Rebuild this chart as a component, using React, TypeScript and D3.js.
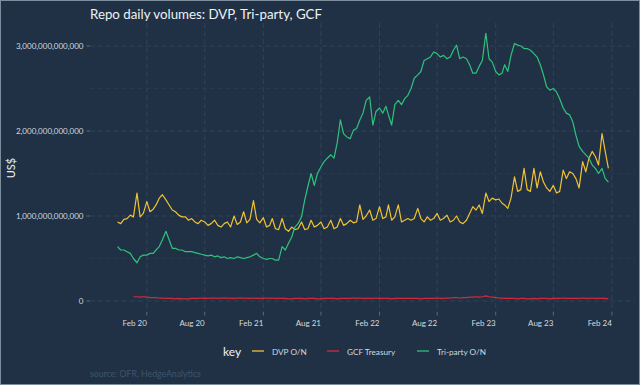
import React, { useEffect, useRef } from 'react';
import * as d3 from 'd3';

// readings in trillions of US$, three per month (1st, 11th, 21st), Nov 2019 - Jan 2024
const DAYS = [1, 11, 21];
const FIRST_MONTH = new Date(2019, 10, 1);
const AFTER_LAST_MONTH = new Date(2024, 1, 1);

const DVP = [
    0.93, 0.91, 0.96, 0.97, 1.01, 0.99,
    1.27, 0.99, 1.03, 1.17, 1.05, 1.08, 1.13, 1.21, 1.25, 1.19, 1.13, 1.07,
    1.05, 1.01, 0.99, 0.99, 0.95, 0.97, 0.93, 0.91, 0.95, 0.93, 0.89, 0.91,
    0.95, 0.89, 0.87, 0.91, 0.93, 0.87, 1.0, 0.9, 0.93, 1.05, 0.92, 0.96,
    1.18, 0.96, 0.92, 0.98, 0.87, 0.89, 0.97, 0.85, 0.84, 0.97, 0.85, 0.82,
    0.87, 0.84, 0.85, 0.93, 0.84, 0.85, 0.95, 0.87, 0.89, 0.93, 0.85, 0.87,
    0.95, 0.85, 0.87, 0.97, 0.89, 0.91, 0.95, 0.92, 0.93, 1.13, 0.96, 1.0,
    1.07, 0.95, 0.97, 1.11, 0.97, 0.99, 1.13, 0.95, 0.99, 1.13, 0.93, 0.95,
    0.97, 0.95, 0.97, 1.09, 0.97, 0.93, 0.99, 0.95, 0.97, 1.03, 0.95, 0.97,
    1.01, 0.93, 0.95, 1.0, 0.93, 0.91, 0.95, 1.03, 1.11, 1.07, 1.13, 1.03,
    1.27, 1.17, 1.21, 1.19, 1.2, 1.15, 1.13, 1.09, 1.21, 1.46, 1.29, 1.31,
    1.56, 1.31, 1.29, 1.56, 1.33, 1.52, 1.4, 1.33, 1.29, 1.36, 1.27, 1.29,
    1.54, 1.44, 1.52, 1.5, 1.44, 1.33, 1.64, 1.52, 1.68, 1.76, 1.7, 1.6,
    1.97, 1.76, 1.56,
];

const GCF = [
    null, null, null, null, null, 0.05,
    0.05, 0.045, 0.05, 0.045, 0.04, 0.04, 0.04, 0.035, 0.035, 0.03, 0.03, 0.03,
    0.025, 0.03, 0.025, 0.025, 0.025, 0.03, 0.03, 0.03, 0.035, 0.03, 0.03, 0.035,
    0.035, 0.03, 0.035, 0.035, 0.035, 0.03, 0.03, 0.035, 0.035, 0.035, 0.03, 0.03,
    0.035, 0.03, 0.03, 0.03, 0.035, 0.03, 0.035, 0.03, 0.03, 0.03, 0.03, 0.025,
    0.025, 0.03, 0.03, 0.03, 0.025, 0.03, 0.03, 0.03, 0.025, 0.025, 0.03, 0.03,
    0.03, 0.03, 0.025, 0.03, 0.03, 0.03, 0.03, 0.035, 0.03, 0.035, 0.03, 0.03,
    0.03, 0.03, 0.035, 0.03, 0.03, 0.03, 0.03, 0.025, 0.03, 0.03, 0.03, 0.03,
    0.03, 0.03, 0.03, 0.03, 0.025, 0.03, 0.03, 0.03, 0.03, 0.035, 0.03, 0.03,
    0.035, 0.035, 0.04, 0.04, 0.035, 0.04, 0.04, 0.045, 0.045, 0.05, 0.045, 0.05,
    0.06, 0.05, 0.045, 0.04, 0.035, 0.035, 0.03, 0.03, 0.03, 0.03, 0.025, 0.03,
    0.03, 0.025, 0.025, 0.03, 0.025, 0.03, 0.03, 0.03, 0.025, 0.03, 0.03, 0.03,
    0.035, 0.03, 0.03, 0.03, 0.03, 0.03, 0.035, 0.03, 0.03, 0.035, 0.03, 0.03,
    0.03, 0.03, 0.025,
];

const TRI = [
    0.64, 0.6, 0.6, 0.58, 0.56, 0.5,
    0.45, 0.52, 0.54, 0.54, 0.56, 0.56, 0.6, 0.64, 0.72, 0.82, 0.72, 0.62,
    0.62, 0.6, 0.6, 0.58, 0.58, 0.58, 0.57, 0.56, 0.55, 0.54, 0.53, 0.54,
    0.52, 0.53, 0.51, 0.52, 0.5, 0.51, 0.5, 0.52, 0.51, 0.5, 0.51, 0.52,
    0.54, 0.56, 0.52, 0.5, 0.49, 0.5, 0.5, 0.48, 0.48, 0.64, 0.6, 0.68,
    0.75, 0.87, 0.91, 0.99, 1.19, 1.35, 1.5, 1.36, 1.5, 1.58, 1.64, 1.68,
    1.72, 1.68, 1.86, 2.13, 1.97, 1.93, 1.91, 2.01, 2.03, 2.13, 2.21, 2.36,
    2.4, 2.07, 2.23, 2.27, 2.21, 2.29, 2.19, 2.07, 2.31, 2.36, 2.31, 2.38,
    2.42, 2.5, 2.62, 2.66, 2.7, 2.83, 2.85, 2.87, 2.93, 2.91, 2.87, 2.89,
    2.85, 2.87, 2.95, 3.01, 2.85, 2.87, 2.85, 2.78, 2.68, 2.68, 2.76, 2.83,
    3.15, 2.85, 2.81, 2.7, 2.66, 2.68, 2.78, 2.7, 2.89, 3.03, 3.01, 3.0,
    2.97, 2.97, 2.95, 2.91, 2.87, 2.78, 2.66, 2.52, 2.48, 2.5, 2.46, 2.38,
    2.27, 2.21, 2.19, 2.11, 1.95, 1.82, 1.76, 1.72, 1.68, 1.6, 1.56, 1.5,
    1.56, 1.44, 1.4,
];

const SERIES = [
    { key: 'DVP O/N', values: DVP, color: '#f1c232' },
    { key: 'GCF Treasury', values: GCF, color: '#d12b3f' },
    { key: 'Tri-party O/N', values: TRI, color: '#2fc27c' },
];

const X_TICKS = ['2020-02-01', '2020-08-01', '2021-02-01', '2021-08-01', '2022-02-01', '2022-08-01', '2023-02-01', '2023-08-01', '2024-02-01'];
const X_LABELS = ['Feb 20', 'Aug 20', 'Feb 21', 'Aug 21', 'Feb 22', 'Aug 22', 'Feb 23', 'Aug 23', 'Feb 24'];
const Y_TICKS = [0, 1e12, 2e12, 3e12];
const Y_MINOR = [0.5e12, 1.5e12, 2.5e12];

const FONT = 'Lato, "Open Sans", sans-serif';
const BG = '#203145';

export default function App() {
    const svgRef = useRef<SVGSVGElement>(null);

    useEffect(() => {
        if (!svgRef.current) return;
        const width = 640, height = 385;
        const panel = { left: 90, right: 635, top: 23, bottom: 312 };

        const svg = d3.select(svgRef.current)
            .attr('width', width)
            .attr('height', height);
        svg.selectAll('*').remove();

        svg.append('rect').attr('width', width).attr('height', height).attr('fill', BG);

        const dates = d3.timeMonth.range(FIRST_MONTH, AFTER_LAST_MONTH)
            .flatMap(m => DAYS.map(d => new Date(m.getFullYear(), m.getMonth(), d)));

        const x = d3.scaleTime()
            .domain([new Date(2019, 9, 24), new Date(2024, 0, 26)])
            .range([115, 610]);
        const y = d3.scaleLinear()
            .domain([0, 3e12])
            .range([301, 46]);

        const parse = d3.timeParse('%Y-%m-%d');
        const xTicks = X_TICKS.map(s => parse(s)!);

        // grid
        const grid = svg.append('g');
        grid.selectAll('.minor')
            .data(Y_MINOR)
            .enter().append('line')
            .attr('x1', panel.left).attr('x2', panel.right)
            .attr('y1', d => y(d)).attr('y2', d => y(d))
            .attr('stroke', '#2c3e52').attr('stroke-width', 0.6)
            .attr('stroke-dasharray', '5,3');
        grid.selectAll('.hmajor')
            .data(Y_TICKS)
            .enter().append('line')
            .attr('x1', panel.left).attr('x2', panel.right)
            .attr('y1', d => y(d)).attr('y2', d => y(d))
            .attr('stroke', '#35485d').attr('stroke-width', 0.8)
            .attr('stroke-dasharray', '5,3');
        grid.selectAll('.vmajor')
            .data(xTicks)
            .enter().append('line')
            .attr('x1', d => x(d)).attr('x2', d => x(d))
            .attr('y1', panel.top).attr('y2', panel.bottom)
            .attr('stroke', '#35485d').attr('stroke-width', 0.8)
            .attr('stroke-dasharray', '5,3');

        // lines
        SERIES.forEach(s => {
            const pts = dates.map((d, i) => ({ date: d, v: s.values[i] }))
                .filter(p => p.v !== undefined);
            const line = d3.line<{ date: Date; v: number | null }>()
                .defined(p => p.v !== null)
                .x(p => x(p.date))
                .y(p => y((p.v as number) * 1e12));
            svg.append('path')
                .datum(pts)
                .attr('fill', 'none')
                .attr('stroke', s.color)
                .attr('stroke-width', 1.2)
                .attr('stroke-linejoin', 'round')
                .attr('d', line);
        });

        // y axis
        const fmt = d3.format(',.0f');
        const yAxis = svg.append('g');
        yAxis.selectAll('line')
            .data(Y_TICKS)
            .enter().append('line')
            .attr('x1', panel.left - 3.5).attr('x2', panel.left)
            .attr('y1', d => y(d)).attr('y2', d => y(d))
            .attr('stroke', '#6b7a8a').attr('stroke-width', 0.8);
        yAxis.selectAll('text')
            .data(Y_TICKS)
            .enter().append('text')
            .attr('x', panel.left - 6.5)
            .attr('y', d => y(d))
            .attr('dy', '0.35em')
            .attr('text-anchor', 'end')
            .attr('font-family', FONT)
            .attr('font-size', 8)
            .attr('fill', '#d3d9df')
            .text(d => fmt(d));

        // x axis
        const xAxis = svg.append('g');
        xAxis.selectAll('line')
            .data(xTicks)
            .enter().append('line')
            .attr('x1', d => x(d)).attr('x2', d => x(d))
            .attr('y1', panel.bottom).attr('y2', panel.bottom + 3.5)
            .attr('stroke', '#6b7a8a').attr('stroke-width', 0.8);
        xAxis.selectAll('text')
            .data(xTicks)
            .enter().append('text')
            .attr('x', d => x(d))
            .attr('y', 325.5)
            .attr('text-anchor', 'end')
            .attr('font-family', FONT)
            .attr('font-size', 8)
            .attr('fill', '#d3d9df')
            .text((_, i) => X_LABELS[i]);

        svg.append('text')
            .attr('transform', 'translate(15,168) rotate(-90)')
            .attr('text-anchor', 'middle')
            .attr('font-family', FONT)
            .attr('font-size', 11)
            .attr('fill', '#eef1f4')
            .text('US$');

        svg.append('text')
            .attr('x', 90).attr('y', 19)
            .attr('font-family', FONT)
            .attr('font-size', 13.3)
            .attr('fill', '#eef1f4')
            .text('Repo daily volumes: DVP, Tri-party, GCF');

        // legend
        const legend = svg.append('g');
        legend.append('text')
            .attr('x', 223).attr('y', 355.5)
            .attr('font-family', FONT)
            .attr('font-size', 12)
            .attr('fill', '#eef1f4')
            .text('key');
        const itemX = [252, 327, 417];
        SERIES.forEach((s, i) => {
            legend.append('line')
                .attr('x1', itemX[i]).attr('x2', itemX[i] + 12)
                .attr('y1', 351).attr('y2', 351)
                .attr('stroke', s.color).attr('stroke-width', 1.3);
            legend.append('text')
                .attr('x', itemX[i] + 20).attr('y', 354.5)
                .attr('font-family', FONT)
                .attr('font-size', 8.2)
                .attr('fill', '#d3d9df')
                .text(s.key);
        });

        svg.append('text')
            .attr('x', 90).attr('y', 377)
            .attr('font-family', FONT)
            .attr('font-size', 8.7)
            .attr('fill', '#3c566f')
            .text('source: OFR, HedgeAnalytics');

        svg.append('rect')
            .attr('x', 0.5).attr('y', 0.5)
            .attr('width', width - 1).attr('height', height - 1)
            .attr('fill', 'none')
            .attr('stroke', '#7c8d9e')
            .attr('stroke-width', 1);
    }, []);

    return (
        <div style={{ position: 'absolute', left: 0, top: 0 }}>
            <svg ref={svgRef} style={{ display: 'block' }}></svg>
        </div>
    );
}
